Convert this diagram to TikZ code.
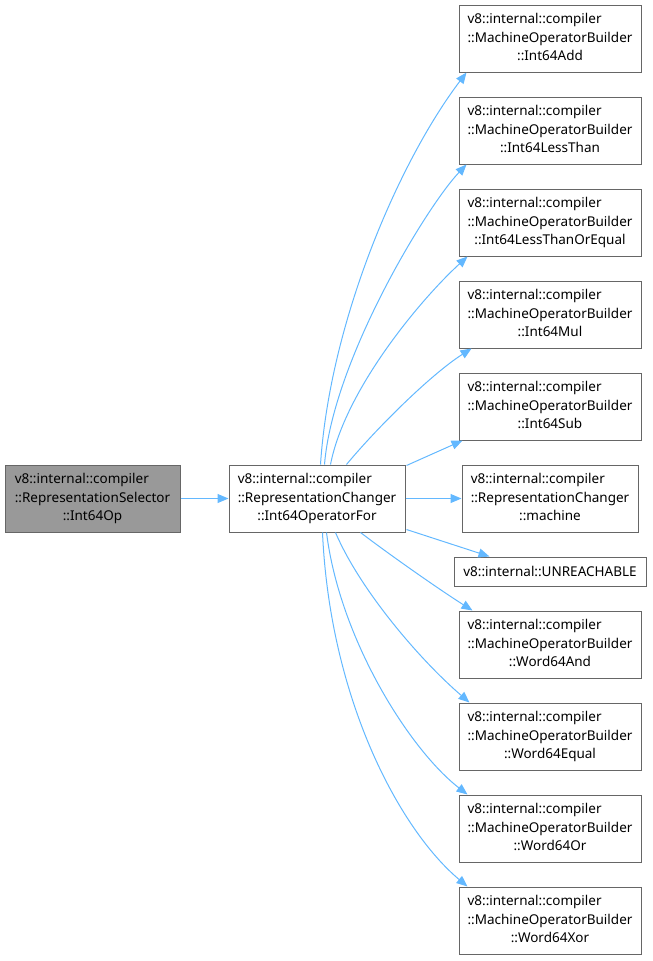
\documentclass[tikz,border=0pt]{standalone}
\usepackage{fontspec}
\setmainfont{Noto Sans}
\usetikzlibrary{arrows.meta,calc}
\definecolor{edgeblue}{HTML}{63B8FF}
\definecolor{boxborder}{HTML}{666666}
\definecolor{boxgray}{HTML}{999999}
\newcommand{\threelines}[3]{\begin{tabular}{@{}l@{}}#1\\#2\\\multicolumn{1}{@{}c@{}}{#3}\end{tabular}}
\begin{document}
\begin{tikzpicture}[x=1pt,y=-1pt,
  box/.style={draw=boxborder,line width=1pt,fill=white,align=center,inner sep=0pt,
    minimum width=182pt,minimum height=67pt,font=\fontsize{13.5}{18.5}\selectfont},
  edge/.style={draw=edgeblue,line width=1pt,-{Triangle[length=11pt,width=9pt]}}]
\useasboundingbox (0,0) rectangle (653,961);
\node[box,fill=boxgray,minimum width=175pt] (sel) at (92.5,498.5) {\threelines{v8::internal::compiler}{::RepresentationSelector}{::Int64Op}};
\node[box,minimum width=176pt] (chg) at (317,498.5) {\threelines{v8::internal::compiler}{::RepresentationChanger}{::Int64OperatorFor}};
\node[box] (add) at (550,38.5) {\threelines{v8::internal::compiler}{::MachineOperatorBuilder}{::Int64Add}};
\node[box] (lt) at (550,130.5) {\threelines{v8::internal::compiler}{::MachineOperatorBuilder}{::Int64LessThan}};
\node[box] (le) at (550,222.5) {\threelines{v8::internal::compiler}{::MachineOperatorBuilder}{::Int64LessThanOrEqual}};
\node[box] (mul) at (550,314.5) {\threelines{v8::internal::compiler}{::MachineOperatorBuilder}{::Int64Mul}};
\node[box] (sub) at (550,406.5) {\threelines{v8::internal::compiler}{::MachineOperatorBuilder}{::Int64Sub}};
\node[box,minimum width=176pt] (mach) at (550,498.5) {\threelines{v8::internal::compiler}{::RepresentationChanger}{::machine}};
\node[box,minimum width=192pt,minimum height=29pt] (unr) at (550,571.5) {v8::internal::UNREACHABLE};
\node[box] (and) at (550,644.5) {\threelines{v8::internal::compiler}{::MachineOperatorBuilder}{::Word64And}};
\node[box] (eq) at (550,736.5) {\threelines{v8::internal::compiler}{::MachineOperatorBuilder}{::Word64Equal}};
\node[box] (or) at (550,828.5) {\threelines{v8::internal::compiler}{::MachineOperatorBuilder}{::Word64Or}};
\node[box] (xor) at (550,920.5) {\threelines{v8::internal::compiler}{::MachineOperatorBuilder}{::Word64Xor}};
\path[edge] (sel.east) -- (chg.west);
\path[edge] ($(chg.north west)+(92,0)$) .. controls (330,320) and (400,160) .. ($(add.south west)+(8,0)$);
\path[edge] ($(chg.north west)+(96,0)$) .. controls (333,360) and (427,206) .. ($(lt.south west)+(8,0)$);
\path[edge] ($(chg.north west)+(102,0)$) .. controls (345,390) and (420,300) .. ($(le.south west)+(9,0)$);
\path[edge] ($(chg.north west)+(118,0)$) .. controls (375,430) and (430,375) .. ($(mul.south west)+(13,0)$);
\path[edge] ($(chg.north east)+(1,1)$) -- ($(sub.south west)+(4,0)$);
\path[edge] (chg.east) -- (mach.west);
\path[edge] ($(chg.south east)+(1,-3)$) -- ($(unr.north west)+(36,0)$);
\path[edge] ($(chg.south west)+(132,0)$) .. controls (390,555) and (440,590) .. ($(and.north west)+(14,0)$);
\path[edge] ($(chg.south west)+(107,0)$) .. controls (360,590) and (420,660) .. ($(eq.north west)+(11,0)$);
\path[edge] ($(chg.south west)+(98,0)$) .. controls (340,640) and (410,750) .. ($(or.north west)+(9,0)$);
\path[edge] ($(chg.south west)+(94,0)$) .. controls (330,700) and (400,830) .. ($(xor.north west)+(9,0)$);
\end{tikzpicture}
\end{document}
